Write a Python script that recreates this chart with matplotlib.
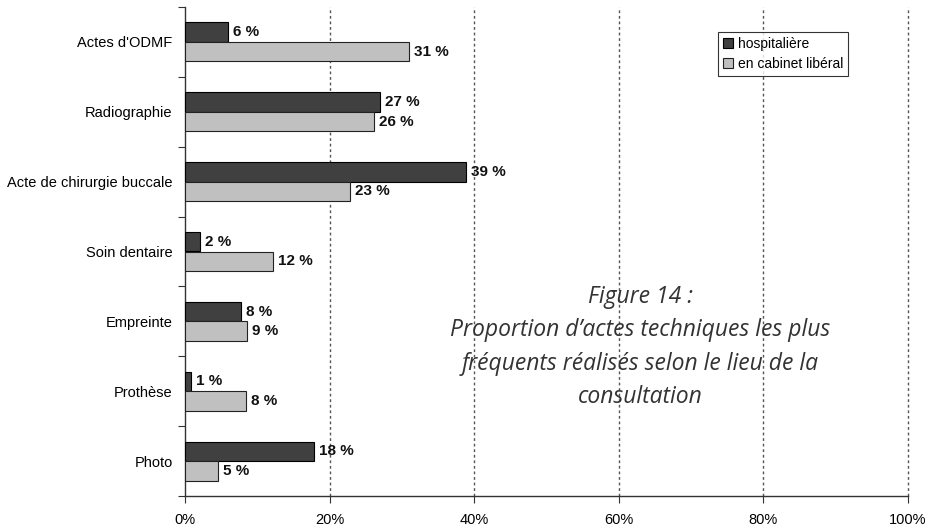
import matplotlib
matplotlib.use("Agg")
import matplotlib.pyplot as plt
import numpy as np

categories = ["Actes d'ODMF", "Radiographie", "Acte de chirurgie buccale",
              "Soin dentaire", "Empreinte", "Prothèse", "Photo"]
hospitaliere = [5.9, 27.0, 38.9, 2.1, 7.7, 0.8, 17.8]
liberal = [31.0, 26.1, 22.8, 12.2, 8.6, 8.4, 4.6]
series_names = ["hospitalière", "en cabinet libéral"]
xticks = [0, 20, 40, 60, 80, 100]
caption = "Figure 14 :\nProportion d\u2019actes techniques les plus\nfréquents réalisés selon le lieu de la\nconsultation"

plt.rcParams['font.family'] = ['Liberation Sans', 'DejaVu Sans']

fig = plt.figure(figsize=(9.33, 5.26), dpi=100)
W, H = 933, 526
ax = fig.add_axes([185 / W, 1 - 496 / H, (908 - 185) / W, (496 - 7) / H])

n = len(categories)
y = np.arange(n)
h = 0.28
dark = '#404040'
light = '#c0c0c0'
b1 = ax.barh(y - h / 2, hospitaliere, height=h, color=dark, edgecolor='#000000', linewidth=0.8,
             label=series_names[0], zorder=3)
b2 = ax.barh(y + h / 2, liberal, height=h, color=light, edgecolor='#222222', linewidth=0.8,
             label=series_names[1], zorder=3)

for bars, vals in ((b1, hospitaliere), (b2, liberal)):
    for rect, v in zip(bars, vals):
        ax.text(rect.get_width() + 0.7, rect.get_y() + rect.get_height() / 2,
                f"{round(v)} %", va='center', ha='left', fontsize=11,
                fontweight='bold', color='#111111', zorder=4)

ax.set_xlim(0, 100)
ax.set_ylim(n - 0.5, -0.5)
ax.set_xticks(xticks)
ax.set_xticklabels([f"{t}%" for t in xticks], fontsize=10.5)
ax.set_yticks(np.arange(-0.5, n, 1))
ax.set_yticklabels([])
ax.set_yticks(y, minor=True)
ax.set_yticklabels(categories, minor=True, fontsize=10.5)
ax.tick_params(axis='y', which='minor', length=0, pad=9)
ax.tick_params(axis='y', which='major', length=5, direction='out', color='#333333')
ax.tick_params(axis='x', length=5, direction='out', color='#333333', pad=7)

for t in xticks[1:]:
    ax.axvline(t, color='#555555', linestyle=(0, (2, 2)), linewidth=1, zorder=1, clip_on=False)

for s in ['top', 'right']:
    ax.spines[s].set_visible(False)
for s in ['left', 'bottom']:
    ax.spines[s].set_color('#333333')
    ax.spines[s].set_linewidth(1)

leg = ax.legend(loc='upper left', bbox_to_anchor=((718 - 185) / (908 - 185), 1 - (32 - 7) / (496 - 7)),
                fontsize=10, frameon=True, fancybox=False, edgecolor='#000000',
                handlelength=0.7, handleheight=0.7, handletextpad=0.4,
                borderpad=0.35, labelspacing=0.45, borderaxespad=0)
leg.get_frame().set_linewidth(0.8)
leg.set_zorder(5)

fig.text(640 / W, 1 - 347 / H, caption, ha='center', va='center',
         fontsize=16.5, style='italic', color='#333333', family=['Open Sans', 'DejaVu Sans'],
         linespacing=1.52)

fig.savefig("out.png", dpi=100, facecolor='white')
